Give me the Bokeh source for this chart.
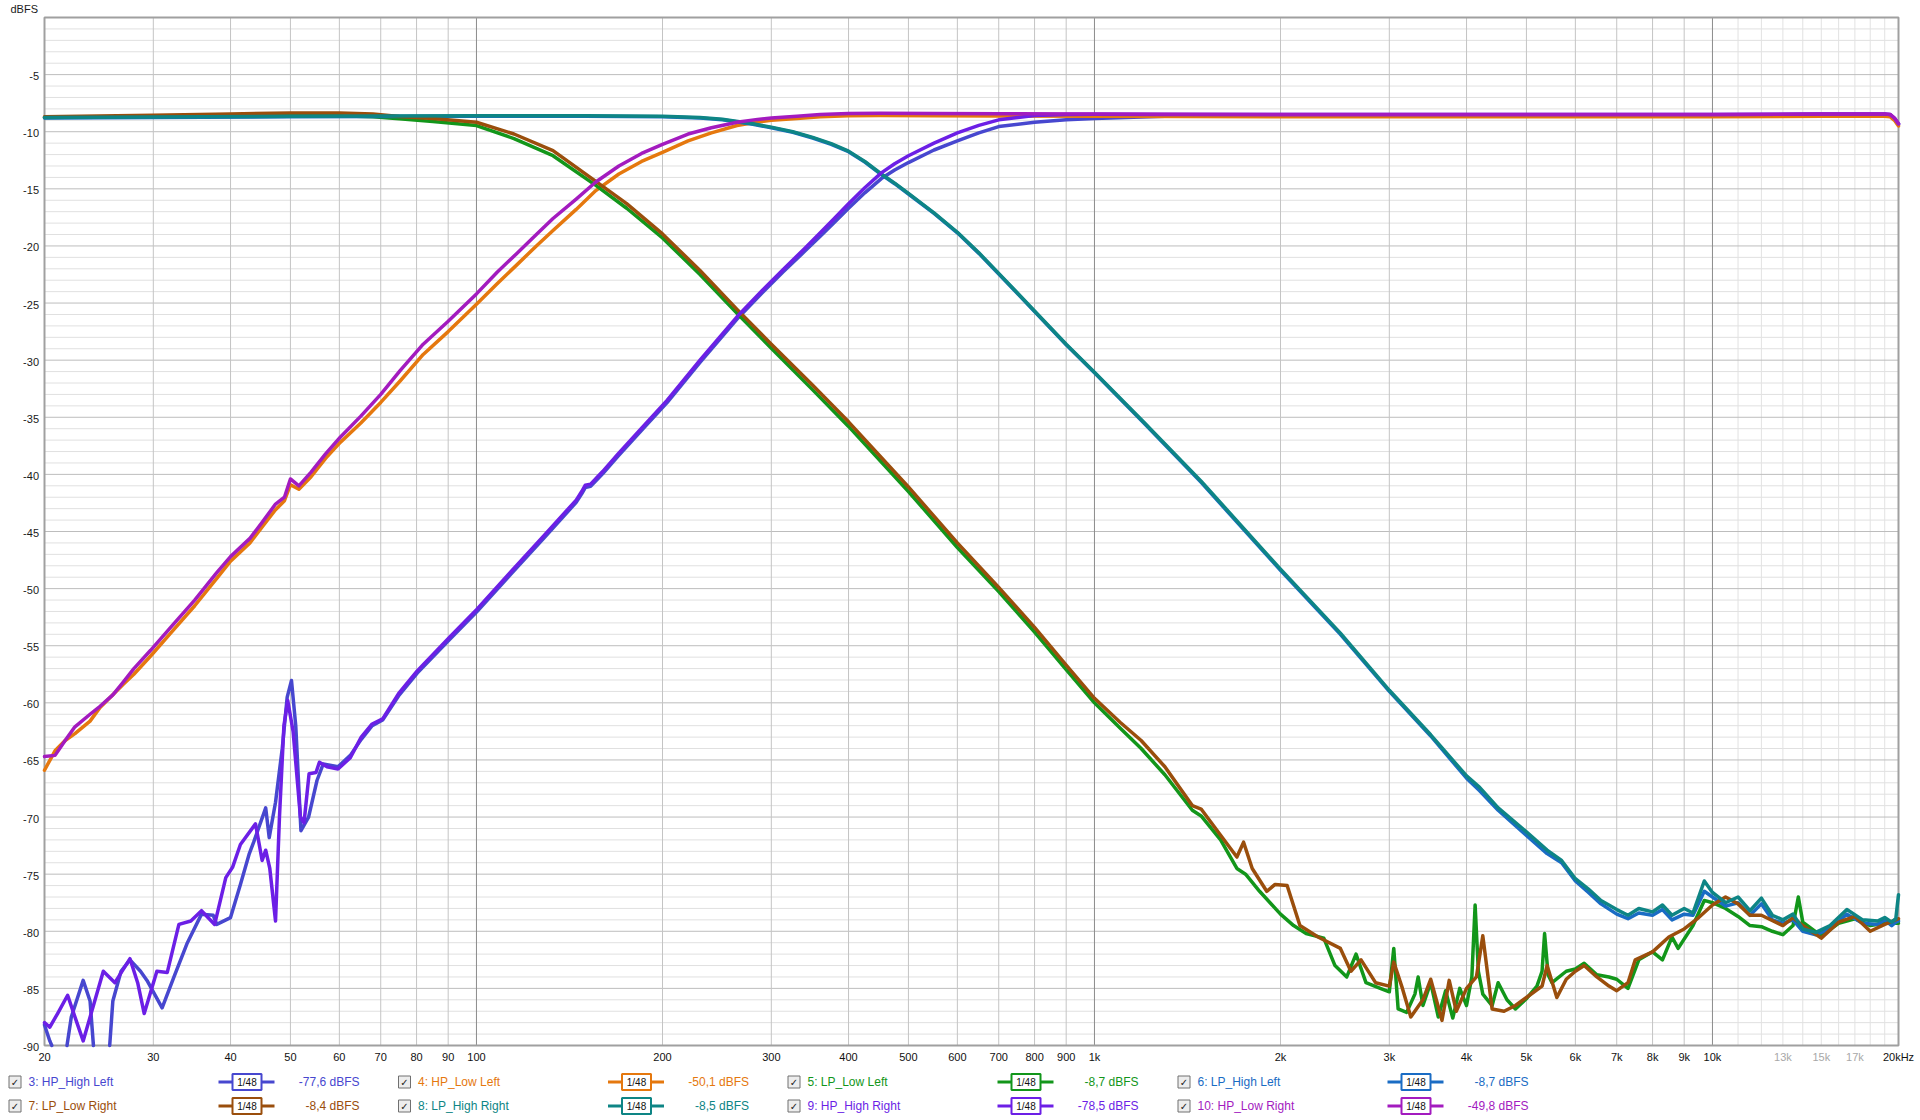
from bokeh.plotting import figure
from bokeh.models import Range1d, ColumnDataSource, LogScale
from bokeh.embed import file_html
from bokeh.resources import INLINE
from bokeh.core.properties import value

NAN = float("nan")

# ---------------- data ----------------
x_ticks = [20, 30, 40, 50, 60, 70, 80, 90, 100, 200, 300, 400, 500, 600, 700, 800, 900,
           1000, 2000, 3000, 4000, 5000, 6000, 7000, 8000, 9000, 10000, 13000, 15000, 17000, 20000]
x_tick_labels = ["20", "30", "40", "50", "60", "70", "80", "90", "100", "200", "300", "400", "500",
                 "600", "700", "800", "900", "1k", "2k", "3k", "4k", "5k", "6k", "7k", "8k", "9k",
                 "10k", "13k", "15k", "17k", "20kHz"]
x_faint_ticks = [13000, 15000, 17000]
y_ticks = [-5, -10, -15, -20, -25, -30, -35, -40, -45, -50, -55, -60, -65, -70, -75, -80, -85, -90]
y_tick_labels = [str(v) for v in y_ticks]
y_unit_label = "dBFS"
x_min, x_max = 20, 20000
y_min, y_max = -90, 0

series_names = ["3: HP_High Left", "4: HP_Low Left", "5: LP_Low Left", "6: LP_High Left",
                "7: LP_Low Right", "8: LP_High Right", "9: HP_High Right", "10: HP_Low Right"]
series_values = ["-77,6 dBFS", "-50,1 dBFS", "-8,7 dBFS", "-8,7 dBFS",
                 "-8,4 dBFS", "-8,5 dBFS", "-78,5 dBFS", "-49,8 dBFS"]
series_colors = ["#4747CF", "#E5780E", "#12961A", "#1A6CC4",
                 "#9A4E0C", "#0E8585", "#6C1FE6", "#A31BBF"]

# HP_Low (left = orange, right = magenta)
hp_low_f = [20, 20.8, 21.6, 22.4, 23.7, 24.6, 25.8, 26.8, 27.9, 29.7, 32, 35, 38, 40, 43, 45, 47.3,
            48.9, 50, 51.6, 54, 57, 60.2, 65, 70, 75.3, 82, 90, 100, 108, 116, 125, 133, 145, 156,
            170, 185, 200, 220, 240, 264, 285, 300, 330, 360, 400, 450, 550, 700, 1000, 2000, 5000,
            10000, 15000, 19000, 19400, 19700, 20000]
hp_low_right_db = [-64.7, -64.6, -63.3, -62.1, -61.0, -60.3, -59.3, -58.2, -57.0, -55.4, -53.4,
                   -51.0, -48.6, -47.2, -45.6, -44.2, -42.6, -42.0, -40.4, -41.0, -39.8, -38.2,
                   -36.75, -34.9, -33.0, -30.9, -28.6, -26.6, -24.2, -22.3, -20.7, -19.0, -17.6,
                   -15.9, -14.4, -13.0, -11.9, -11.1, -10.2, -9.65, -9.17, -8.92, -8.8, -8.65,
                   -8.5, -8.4, -8.38, -8.4, -8.43, -8.45, -8.5, -8.5, -8.5, -8.45, -8.45, -8.5,
                   -8.8, -9.3]
hp_low_left_db = [-65.9, -64.2, -63.3, -62.7, -61.6, -60.4, -59.3, -58.4, -57.5, -55.9, -53.9,
                  -51.5, -49.1, -47.6, -46.0, -44.6, -43.1, -42.3, -40.9, -41.3, -40.2, -38.6,
                  -37.2, -35.5, -33.7, -31.8, -29.5, -27.5, -25.1, -23.3, -21.7, -20.0, -18.65,
                  -16.8, -15.15, -13.7, -12.6, -11.8, -10.8, -10.1, -9.46, -9.15, -9.0, -8.85,
                  -8.7, -8.6, -8.58, -8.6, -8.62, -8.65, -8.7, -8.7, -8.7, -8.65, -8.65, -8.7,
                  -9.0, -9.5]

# LP_Low left (green)
lp_low_left_f = [20, 30, 40, 50, 60, 68, 75, 85, 100, 115, 133, 156, 175, 200, 230, 264, 300, 350,
                 400, 500, 600, 700, 800, 900, 1000, 1100, 1190, 1300, 1440, 1488, 1600, 1700, 1756,
                 1850, 2000, 2100, 2200, 2350, 2450, 2560, 2650, 2750, 2900, 3000, 3050, 3100, 3200,
                 3300, 3340, 3400, 3500, 3600, 3700, 3800, 3900, 4000, 4080, 4130, 4180, 4250,
                 4400, 4500, 4650, 4800, 5000, 5200, 5300, 5350, 5420, 5500, 5800, 6000, 6200, 6500,
                 6800, 7000, 7300, 7600, 8000, 8300, 8600, 8800, 9300, 9700, 10000, 10500, 11000,
                 11500, 12000, 12500, 13000, 13500, 13770, 14000, 15000, 16000, 17000, 18000,
                 19000, 20000]
lp_low_left_db = [-8.75, -8.65, -8.6, -8.55, -8.6, -8.7, -8.87, -9.1, -9.46, -10.6, -12.1, -14.7,
                  -16.7, -19.3, -22.5, -25.9, -28.95, -32.6, -35.8, -41.5, -46.4, -50.25, -53.8,
                  -57.1, -60.0, -62.2, -64.0, -66.3, -69.4, -69.9, -72.0, -74.5, -75.0, -76.5,
                  -78.5, -79.5, -80.2, -80.6, -83.0, -84.0, -82.0, -84.5, -85.0, -85.3, -81.5,
                  -86.8, -87.1, -85.5, -84.0, -86.5, -84.5, -87.5, -85.2, -87.6, -85.0, -86.5,
                  -84.0, -77.7, -83.5, -85.5, -86.5, -84.5, -86.0, -86.8, -85.9, -84.8, -83.5,
                  -80.2, -83.8, -84.5, -83.5, -83.3, -82.8, -83.8, -84.0, -84.2, -85.0, -82.5,
                  -81.8, -82.5, -80.5, -81.5, -79.5, -77.3, -77.5, -78.0, -78.7, -79.5, -79.6,
                  -80.0, -80.3, -79.5, -77.0, -79.2, -80.4, -79.3, -78.9, -79.5, -79.3, -79.3]

# LP_Low right (brown)
lp_low_right_f = [20, 30, 40, 50, 60, 68, 75, 85, 100, 115, 133, 156, 175, 200, 230, 264, 300, 350,
                  400, 500, 600, 700, 800, 900, 1000, 1100, 1190, 1300, 1440, 1488, 1600, 1700,
                  1743, 1800, 1900, 1960, 2050, 2150, 2300, 2500, 2600, 2700, 2850, 3000, 3050,
                  3150, 3250, 3400, 3500, 3650, 3750, 3850, 4000, 4150, 4250, 4400, 4600, 4800,
                  5000, 5300, 5400, 5600, 5800, 6000, 6200, 6500, 6800, 7000, 7300, 7500, 8000,
                  8500, 9000, 9500, 10000, 10500, 11000, 11500, 12000, 13000, 13500, 14000,
                  15000, 16000, 17000, 18000, 19000, 20000]
lp_low_right_db = [-8.7, -8.55, -8.45, -8.35, -8.35, -8.45, -8.66, -8.85, -9.17, -10.2, -11.65,
                   -14.35, -16.3, -18.95, -22.15, -25.55, -28.6, -32.2, -35.4, -41.1, -46.0, -49.9,
                   -53.4, -56.7, -59.6, -61.7, -63.3, -65.6, -69.0, -69.3, -71.6, -73.5, -72.2,
                   -74.5, -76.5, -75.9, -76.0, -79.5, -80.5, -81.5, -83.5, -82.5, -84.5, -84.8,
                   -82.7, -85.0, -87.5, -86.0, -84.2, -87.8, -84.3, -87.0, -85.0, -84.0, -80.4,
                   -86.8, -87.0, -86.5, -85.8, -84.8, -83.0, -85.8, -84.2, -83.5, -83.0, -84.0,
                   -84.8, -85.2, -84.5, -82.5, -81.8, -80.5, -79.8, -78.8, -77.7, -77.0, -77.6,
                   -78.6, -78.6, -79.5, -78.8, -79.5, -80.6, -79.2, -78.7, -80.0, -79.4, -78.9]

# LP_High (left = blue, right = teal)
lp_high_f = [20, 50, 100, 150, 200, 230, 250, 280, 300, 325, 350, 375, 400, 425, 452, 475, 500,
             550, 600, 650, 700, 750, 800, 900, 1000, 1200, 1488, 2000, 2500, 3000, 3500, 4000,
             4200, 4500, 5000, 5400, 5700, 6000, 6300, 6600, 7000, 7300, 7600, 8000, 8300, 8600,
             9000, 9300, 9700, 10000, 10500, 11000, 11500, 12000, 12500, 13000, 13500, 14000,
             14700, 15500, 16500, 17500, 18500, 19000, 19500, 19800, 20000]
lp_high_right_db = [-8.75, -8.65, -8.6, -8.6, -8.65, -8.75, -8.9, -9.3, -9.6, -10.0, -10.5,
                    -11.05, -11.7, -12.6, -13.7, -14.5, -15.4, -17.1, -18.8, -20.6, -22.4, -24.1,
                    -25.7, -28.6, -31.05, -35.4, -40.6, -48.3, -53.9, -58.9, -62.8, -66.4, -67.4,
                    -69.2, -71.3, -72.9, -73.8, -75.4, -76.3, -77.3, -78.1, -78.6, -78.0, -78.3,
                    -77.7, -78.6, -78.0, -78.4, -75.6, -76.6, -77.5, -77.0, -78.2, -77.1, -78.6,
                    -79.0, -78.5, -79.8, -80.1, -79.5, -78.1, -79.0, -79.1, -78.8, -79.2, -78.9,
                    -76.8]
lp_high_left_db = [-8.8, -8.7, -8.65, -8.65, -8.7, -8.8, -8.95, -9.35, -9.65, -10.05, -10.55,
                   -11.1, -11.75, -12.65, -13.75, -14.55, -15.45, -17.15, -18.85, -20.65, -22.45,
                   -24.15, -25.75, -28.65, -31.1, -35.45, -40.7, -48.4, -54.0, -59.0, -62.9,
                   -66.6, -67.7, -69.4, -71.6, -73.2, -74.0, -75.6, -76.6, -77.6, -78.5, -78.9,
                   -78.4, -78.6, -78.1, -79.0, -78.5, -78.6, -76.5, -77.0, -77.8, -77.5, -78.6,
                   -77.6, -79.0, -79.3, -79.0, -80.0, -80.3, -79.8, -78.5, -79.3, -79.4, -79.0,
                   -79.5, -79.2, -79.1]

# HP_High right (violet)
hp_high_right_f = [20, 20.4, 21.0, 21.8, 22.5, 23.1, 24.0, 24.9, 26.0, 27.5, 28.3, 29.0, 30.4,
                   31.6, 33.0, 34.5, 35.9, 37.7, 39.3, 40.3, 41.5, 43.9, 45.0, 45.6, 46.3, 47.3,
                   48.0, 48.8, 49.5, 50.5, 51.9, 52.6, 53.6, 55.0, 55.7, 57.3, 59.7, 62.5, 65.1,
                   67.8, 70.5, 74.8, 80.2, 90.3, 100.2, 113.6, 128.9, 145, 148, 150, 153, 160,
                   169.5, 185, 203.6, 230, 264, 290, 313, 340, 360, 380, 400, 425, 452, 475, 500,
                   550, 600, 650, 700, 800, 900, 1000, 1300, 2000, 5000, 10000, 15000, 19000,
                   19400, 19700, 20000]
hp_high_right_db = [-88.0, -88.4, -87.2, -85.6, -87.8, -89.6, -86.5, -83.5, -84.5, -82.4, -84.5,
                    -87.2, -83.5, -83.6, -79.4, -79.1, -78.2, -79.4, -75.3, -74.4, -72.4, -70.6,
                    -73.8, -72.9, -74.5, -79.1, -70.0, -62.0, -59.8, -62.5, -70.0, -70.5, -66.2,
                    -66.1, -65.2, -65.6, -65.8, -64.8, -63.0, -61.85, -61.4, -59.2, -57.2, -54.3,
                    -51.8, -48.55, -45.3, -42.25, -41.5, -40.95, -40.85, -39.75, -38.2, -35.95,
                    -33.5, -30.0, -26.2, -23.9, -22.1, -20.2, -18.85, -17.55, -16.3, -14.9,
                    -13.6, -12.8, -12.1, -11.0, -10.1, -9.45, -8.96, -8.58, -8.5, -8.48, -8.5,
                    -8.5, -8.5, -8.5, -8.45, -8.45, -8.5, -8.8, -9.3]

# HP_High left (blue-violet); NaN = below the bottom of the chart
hp_high_left_f = [20, 20.4, 20.55, 21.0, 21.75, 22.1, 23.1, 23.7, 24.0, 24.6, 25.5, 25.8, 26.6,
                  27.5, 28.6, 29.3, 31.0, 32.4, 34.0, 35.9, 37.5, 38.0, 40.0, 41.5, 42.9, 43.6,
                  45.6, 46.2, 47.3, 48.5, 49.4, 50.2, 51.0, 52.0, 53.5, 55.2, 56.5, 59.7, 62.5,
                  65.1, 67.8, 70.5, 74.8, 80.2, 90.3, 100.2, 113.6, 128.9, 145, 148, 150, 153,
                  160, 169.5, 185, 203.6, 230, 264, 290, 313, 340, 360, 380, 400, 425, 452, 475,
                  500, 550, 600, 650, 700, 800, 900, 1000, 1300, 2000, 5000, 10000, 15000, 19000,
                  19400, 19700, 20000]
hp_high_left_db = [-88.2, -89.6, -90.0, NAN, -90.0, -87.5, -84.3, -86.1, -90.0, NAN, -90.0,
                   -86.1, -83.5, -82.5, -83.5, -84.3, -86.7, -84.0, -81.1, -78.5, -78.6, -79.4,
                   -78.8, -75.9, -73.2, -72.2, -69.2, -71.8, -68.7, -64.0, -59.5, -58.05, -62.0,
                   -71.2, -70.0, -66.8, -65.35, -65.6, -64.6, -63.2, -62.0, -61.5, -59.4, -57.4,
                   -54.5, -52.0, -48.75, -45.5, -42.45, -41.7, -41.15, -41.05, -39.95, -38.4,
                   -36.15, -33.7, -30.2, -26.4, -24.1, -22.3, -20.45, -19.15, -17.9, -16.7,
                   -15.35, -14.1, -13.35, -12.7, -11.6, -10.8, -10.1, -9.55, -9.17, -8.95, -8.85,
                   -8.65, -8.58, -8.55, -8.55, -8.5, -8.5, -8.55, -8.85, -9.35]

# grid positions
x_grid_decades = [100, 1000, 10000]
x_grid_regular = [30, 40, 50, 60, 70, 80, 90, 200, 300, 400, 500, 600, 700, 800, 900,
                  2000, 3000, 4000, 5000, 6000, 7000, 8000, 9000]
x_grid_faint = [11000, 12000, 13000, 14000, 15000, 16000, 17000, 18000, 19000]
y_grid_minor = [v for v in range(-89, 0) if v % 5 != 0]
y_grid_major = [-5, -10, -15, -20, -25, -30, -35, -40, -45, -50, -55, -60, -65, -70, -75, -80, -85]

# ---------------- layout (page pixels) ----------------
W, H = 1918, 1118
FRAME_L, FRAME_T, FRAME_W, FRAME_H = 44, 17, 1854, 1028
FONT = "Liberation Sans"

# data ranges that put the plot area exactly on the frame rectangle
decades = 3.0
f_left = x_min * 10 ** (-FRAME_L * decades / FRAME_W)
f_right = x_min * 10 ** ((W - FRAME_L) * decades / FRAME_W)
db_per_px = (y_max - y_min) / FRAME_H
db_top = y_max + FRAME_T * db_per_px
db_bottom = y_min - (H - FRAME_T - FRAME_H) * db_per_px

p = figure(frame_width=W, frame_height=H, x_range=Range1d(0, W), y_range=Range1d(H, 0),
           x_axis_location=None, y_axis_location=None, output_backend="svg",
           toolbar_location=None, min_border=0, min_border_left=0, min_border_right=0,
           min_border_top=0, min_border_bottom=0, background_fill_color="white",
           border_fill_color="white")
p.outline_line_color = None
p.grid.visible = False
p.extra_x_ranges = {"freq": Range1d(f_left, f_right)}
p.extra_x_scales = {"freq": LogScale()}
p.extra_y_ranges = {"db": Range1d(db_bottom, db_top)}
DATA = dict(x_range_name="freq", y_range_name="db")


def vgrid(freqs, color):
    p.segment(x0=freqs, y0=[y_min] * len(freqs), x1=freqs, y1=[y_max] * len(freqs),
              line_color=color, line_width=1, **DATA)


def hgrid(levels, color):
    p.segment(x0=[x_min] * len(levels), y0=levels, x1=[x_max] * len(levels), y1=levels,
              line_color=color, line_width=1, **DATA)


hgrid(y_grid_minor, "#e0e0e0")
vgrid(x_grid_faint, "#e2e2e2")
hgrid(y_grid_major, "#bdbdbd")
vgrid(x_grid_regular, "#c4c4c4")
vgrid(x_grid_decades, "#8c8c8c")
p.quad(left=[x_min], right=[x_max], bottom=[y_min], top=[y_max], fill_color=None,
       line_color="#a0a0a0", line_width=2, **DATA)

curves = [
    (hp_high_left_f, hp_high_left_db),
    (hp_low_f, hp_low_left_db),
    (lp_low_left_f, lp_low_left_db),
    (lp_high_f, lp_high_left_db),
    (lp_low_right_f, lp_low_right_db),
    (lp_high_f, lp_high_right_db),
    (hp_high_right_f, hp_high_right_db),
    (hp_low_f, hp_low_right_db),
]
for (fx, dy), col in zip(curves, series_colors):
    p.line(fx, dy, line_color=col, line_width=3.5, line_join="round", line_cap="round", **DATA)

# y tick labels (x in page px, y in dB)
p.text(x=[FRAME_L - 5.5] * len(y_ticks), y=y_ticks, text=y_tick_labels, text_align="right",
       text_baseline="middle", y_offset=1.5, text_font=value(FONT), text_font_size="11px",
       text_color="#1a1a1a", y_range_name="db")
# x tick labels (x in Hz, y in page px)
tick_colors = ["#a8a8a8" if t in x_faint_ticks else "#111111" for t in x_ticks]
tick_src = ColumnDataSource(dict(x=x_ticks, y=[FRAME_T + FRAME_H + 11.2] * len(x_ticks),
                                 text=x_tick_labels, color=tick_colors))
p.text(x="x", y="y", text="text", text_color="color", text_align="center",
       text_baseline="middle", text_font=value(FONT), text_font_size="11px",
       x_range_name="freq", source=tick_src)
# unit label
p.text(x=[10], y=[8], text=[y_unit_label], text_align="left", text_baseline="middle",
       text_font=value(FONT), text_font_size="11px", text_color="#1a1a1a")

# ---------------- legend ----------------
col_x = [8, 397.5, 787, 1177]
row_y = [1081.5, 1105.5]
cb_x, cb_y, lab_x, val_x, seg_x0, seg_x1, badge_x = [], [], [], [], [], [], []
for i in range(8):
    x0 = col_x[i % 4]
    yc = row_y[i // 4]
    cb_x.append(x0 + 6.5)
    cb_y.append(yc)
    lab_x.append(x0 + 20)
    val_x.append(x0 + 351)
    seg_x0.append(x0 + 210)
    seg_x1.append(x0 + 266)
    badge_x.append(x0 + 238.5)
src = ColumnDataSource(dict(cb_x=cb_x, y=cb_y, lab_x=lab_x, val_x=val_x, seg_x0=seg_x0,
                            seg_x1=seg_x1, badge_x=badge_x, color=series_colors,
                            name=series_names, val=series_values,
                            check=["\u2713"] * 8, badge=["1/48"] * 8))
p.rect(x="cb_x", y="y", width=12, height=12, fill_color="#ededed", line_color="#707070",
       line_width=1, source=src)
p.text(x="cb_x", y="y", text="check", text_align="center", text_baseline="middle",
       text_font=value("DejaVu Sans"), text_font_style="bold", text_font_size="10px",
       text_color="#222222", source=src)
p.text(x="lab_x", y="y", text="name", text_align="left", text_baseline="middle",
       text_font=value(FONT), text_font_size="12px", text_color="color", source=src)
p.segment(x0="seg_x0", y0="y", x1="seg_x1", y1="y", line_color="color", line_width=3, source=src)
p.rect(x="badge_x", y="y", width=29, height=16, fill_color="white", line_color="color",
       line_width=2, source=src)
p.text(x="badge_x", y="y", text="badge", text_align="center", text_baseline="middle",
       text_font=value(FONT), text_font_size="10px", text_color="#111111", source=src)
p.text(x="val_x", y="y", text="val", text_align="right", text_baseline="middle",
       text_font=value(FONT), text_font_size="12px", text_color="color", source=src)

open("out.html", "w").write(file_html(p, INLINE))
